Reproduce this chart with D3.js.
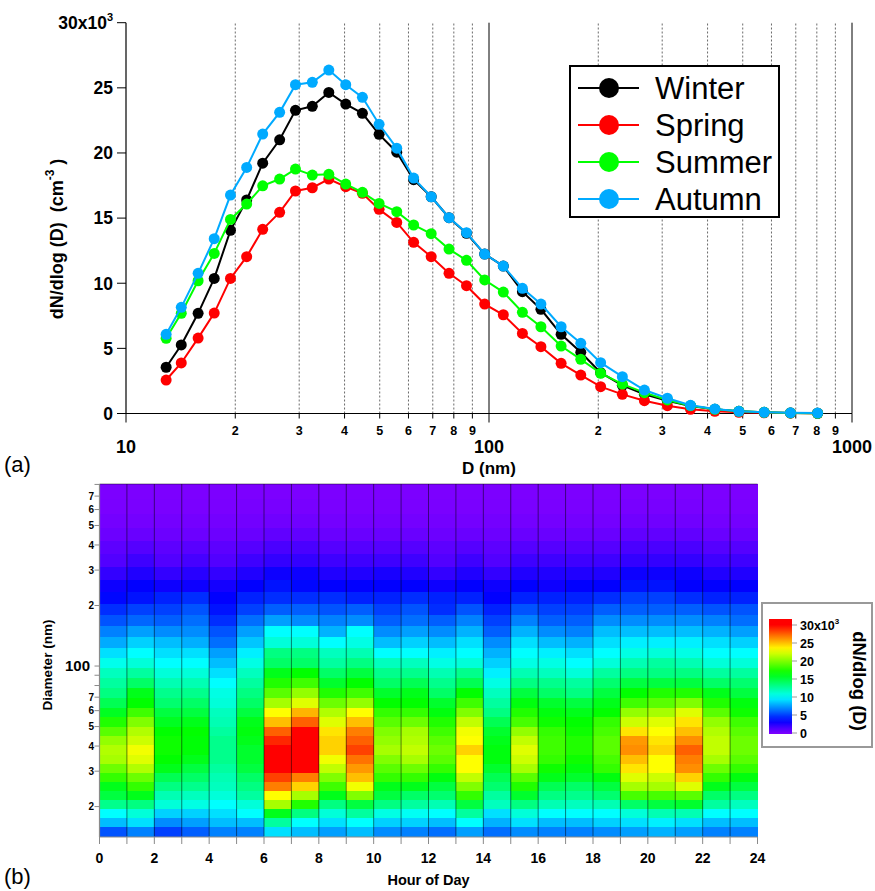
<!DOCTYPE html>
<html><head><meta charset="utf-8">
<script src="https://cdn.jsdelivr.net/npm/d3@7"></script>
<style>
body{margin:0;background:#fff;}
svg{display:block;font-family:"Liberation Sans",Arial,Helvetica,sans-serif;}
</style></head><body>
<svg id="chart" width="875" height="891"></svg>
<script>
// ---------------- DATA ----------------
// particle diameters (nm), SMPS bins
const diameters = [12.9,14.2,15.8,17.5,19.4,21.5,23.8,26.5,29.3,32.6,36.2,40.3,44.8,49.8,55.7,62.0,69.3,77.6,86.7,97.3,109.5,123.6,139,158,179,203,233,268,310,359,419,488,573,677,804];
const seasons = ["Winter","Spring","Summer","Autumn"];
const seasonColors = ["#000000","#ff0000","#00ff00","#00aaff"];
// dN/dlog(D) in units of 10^3 cm^-3
const winter = [3.55,5.26,7.69,10.37,14.06,16.39,19.22,21.01,23.27,23.58,24.65,23.75,23.04,21.43,20.06,17.95,16.64,15.03,13.83,12.24,11.32,9.35,8.00,6.08,4.70,3.13,2.16,1.47,0.98,0.58,0.32,0.17,0.09,0.04,0.02];
const spring = [2.57,3.88,5.79,7.71,10.37,12.04,14.14,15.44,17.08,17.33,18.00,17.41,16.90,15.67,14.67,13.14,12.04,10.76,9.81,8.40,7.58,6.15,5.13,3.85,2.95,2.06,1.47,0.98,0.60,0.32,0.17,0.09,0.05,0.03,0.02];
const summer = [5.77,7.69,10.19,12.29,14.90,16.08,17.48,18.00,18.76,18.30,18.36,17.61,16.98,16.13,15.49,14.47,13.80,12.62,11.76,10.25,9.32,7.77,6.66,5.18,4.16,3.09,2.26,1.60,1.04,0.60,0.32,0.17,0.09,0.04,0.02];
const autumn = [6.08,8.15,10.76,13.42,16.77,18.89,21.45,23.12,25.24,25.42,26.36,25.24,24.27,22.20,20.37,18.07,16.64,15.03,13.88,12.24,11.32,9.61,8.40,6.66,5.39,3.90,2.83,1.80,1.17,0.63,0.35,0.17,0.09,0.05,0.03];
const seriesValues = [winter, spring, summer, autumn];

const yTicksTop = [0,5,10,15,20,25,30];
const xMajorTicks = [10,100,1000];
const xMinorTicks = [20,30,40,50,60,70,80,90,200,300,400,500,600,700,800,900];

// Hour-of-day heatmap, dN/dlog(D) in 10^3 cm^-3; each hour lists bins from largest (677-804 nm) to smallest (14.2-15.8 nm)
const hours = [0,1,2,3,4,5,6,7,8,9,10,11,12,13,14,15,16,17,18,19,20,21,22,23];
const heat = [
 [0.1,0.15,0.3,0.5,0.9, 1.2,2,3,3.5,4.5,5.5,6.7,7.8,9.2,10.5,11.7,12.5,13.3,14.5,15.8,17.5,19,20.5,21.3,21,19.5,18,16,15,13,10,8.3,5.5],
 [0.1,0.15,0.3,0.6,1.1, 1.7,2.5,3.3,3.8,5,6,7.5,8.8,10,11,12.5,14,16,16.7,18.3,20,21.3,22,23,22.5,21.3,19.5,18,16,13.3,11,9.2,6.7],
 [0.1,0.15,0.3,0.5,0.9, 1.2,2,3,4.2,5,5.8,7,8.3,9.2,10,11,12,13,13.8,15,15.8,16.7,17,17,16.7,16,14.5,13.3,12,11,8.8,7,5],
 [0.1,0.15,0.3,0.5,1.0, 1.5,2.3,3,4.5,5.5,6.2,7,7.9,9.2,10,11,12,13,14,15,16,16.7,16.5,16.5,16,15,14,13,11.7,10.7,8.8,7.5,5.8],
 [0.1,0.15,0.3,0.5,0.9, 1.2,2,2.8,3.3,3.8,4.5,5.5,6.2,7.5,8.3,9.2,10,10.7,11,11.7,12,12.5,13,13,13,12.5,12,11.7,11,10,9.2,8.3,6.7],
 [0.1,0.2,0.35,0.6,1.1, 1.7,2.5,3.3,4.2,5,6.2,7.5,8.5,9.6,10.7,11.7,12.5,13.3,14,15,16,16.3,16,15.5,15.5,15,14,13.3,12.5,11,10,8.3,6.7],
 [0.1,0.2,0.4,0.8,1.4, 2,3,3.8,4.5,5.8,7.5,10,11,13.3,14,16,17.5,19,21,23.3,25,27.5,29,30,30,30,28.3,26.7,23.3,21,16,12.5,9.2],
 [0.1,0.2,0.4,0.8,1.4, 2,3,3.5,4.5,5.8,7,10,11,13.3,14,16.7,18.3,20.5,22.5,25.3,27.5,31,31,32,32,31,26.7,24.5,21,17.5,13.3,10,8.3],
 [0.1,0.15,0.3,0.6,1.1, 1.7,2.5,3.3,4.5,5.5,6.7,8,10,11.7,12.5,14,15.5,17.5,19.5,21.3,22.5,24,24.5,24.5,23,21.7,20,18.3,16,13.3,11,9.2,7.5],
 [0.1,0.15,0.3,0.6,1.1, 1.7,2.5,3.3,4.2,5.8,7,10,10.7,12,13.3,15,16.7,18.3,20.5,23.3,25,26.7,27.5,28.3,27,26,25,23,20,15,12.5,10,8.3],
 [0.1,0.15,0.3,0.6,1.1, 1.7,2.7,3.3,4.2,5,5.8,7,8.3,10,11.7,13,14,15.5,16.7,18,19,20,20.5,21,20,19,18,16,15,13.3,10.7,8.8,7],
 [0.1,0.15,0.3,0.6,1.1, 1.7,2.5,3.3,4.5,5.5,6.2,7.5,8.8,10,11.7,13,14.5,16,16.7,18,19.5,21,21.3,21.7,21,19.5,18,16,14,12.5,10.3,8.8,6.7],
 [0.1,0.15,0.3,0.5,0.9, 1.2,2,3,4.2,4.5,5.8,7,8.3,9.6,10.7,12,13,14,15.5,16.3,17.5,18.3,19,19.5,19,18,16.3,15,13.8,12,10,8.3,6.2],
 [0.1,0.15,0.3,0.6,1.1, 1.7,2.5,3.3,4.2,5.5,6.7,8,9.2,10,11,13,14.5,16.7,18.3,20,21.7,23,23.3,24.5,23.3,23.3,21.7,20,18,15,12.5,10,7.5],
 [0.1,0.15,0.3,0.5,0.9, 1.2,2,3,3.3,4.2,5,5.8,7,8,8.8,9.6,10.7,11.7,12.5,13.3,14.5,15.5,16,16.3,16.3,15.5,14.5,13.8,12.5,11.7,9.2,8,6.2],
 [0.1,0.15,0.3,0.6,1.1, 1.7,2.5,3.3,4.2,5.5,6.7,8,9.2,10,10.7,12,13.3,15,16.3,17.5,18.5,20.5,21.7,22.5,22,21,19,17.5,15.5,13.3,11,9.2,7],
 [0.1,0.15,0.3,0.6,1.1, 1.7,2.5,3,4.2,5,5.8,7,8.3,9.6,10.7,11.7,13,14,15.5,16.3,17,18,18.3,18.3,18,17,16,14.5,13.3,12,10,8.3,6.7],
 [0.1,0.15,0.3,0.6,1.1, 1.7,2.5,3.3,4.2,5,5.8,6.7,8,9.2,10,11,12.5,13.3,15,16,16.7,17,17.5,17.5,17,16.3,15.5,14,13,11.7,10,8.3,6.7],
 [0.1,0.15,0.3,0.6,1.1, 1.7,2.5,3.3,4.5,5.8,7,8.3,9.2,10,11,12.5,13.8,15,16,16.7,18,18.5,19,19,18.5,18,16.3,15,13.8,12,10,8.8,7],
 [0.1,0.2,0.4,0.8,1.4, 2,3,3.8,5,5.8,7,8.3,9.6,10.7,12,13.3,15,16.7,18.3,20.5,22,24,26,26.3,25,24,22.5,21,18.5,14,11,9.2,7.5],
 [0.1,0.2,0.4,0.8,1.4, 2,3,3.8,5,5.8,7,8.3,9.6,11,12.5,13.3,15,17.5,19,21,22.5,23.3,24,24.5,23.3,23.3,22,21,18.5,15,12,9.6,8],
 [0.1,0.2,0.4,0.8,1.4, 2,3,3.3,4.5,5.8,7,8.3,9.6,10.7,12,13.3,15,17.5,20,22.5,24,25,26.3,27.5,26.7,26.3,24.5,22.5,19,15.5,12,9.2,7.5],
 [0.1,0.15,0.3,0.6,1.1, 1.7,2.5,3.3,4.2,5.5,6.7,8,9.2,10,11,12.5,14,16,17.5,19,20.5,21.3,21.7,21.7,21,19.5,18,16,14,12.5,10,8.3,6.7],
 [0.1,0.15,0.3,0.6,1.1, 1.7,2.5,3.3,4.2,5.5,6.2,7.5,8.8,10,11,12.5,13.8,15,16.3,17,18.3,19,19.5,19.5,19,18,16.3,15,13.3,11.7,10,8.3,6.7]
];
const hourTicks = [0,2,4,6,8,10,12,14,16,18,20,22,24];
const heatYLabeled = [20,30,40,50,60,70,100,200,300,400,500,600,700];
const heatYUnlabeled = [80,90,800];
const cbTicks = [0,5,10,15,20,25,30];

// ---------------- DRAW ----------------
const svg = d3.select("#chart");

// ===== Panel (a) =====
const xs = d3.scaleLog().domain([10,1000]).range([126,852]);
const ys = d3.scaleLinear().domain([0,30]).range([413.5,22.7]);
const gA = svg.append("g");

// grid lines
gA.selectAll("line.gridMinor").data(xMinorTicks).join("line")
  .attr("x1",d=>xs(d)).attr("x2",d=>xs(d))
  .attr("y1",ys(0)).attr("y2",ys(30))
  .attr("stroke","#444").attr("stroke-width",0.8).attr("stroke-dasharray","2,2");
gA.selectAll("line.gridMajor").data([100,1000]).join("line")
  .attr("x1",d=>xs(d)).attr("x2",d=>xs(d))
  .attr("y1",ys(0)).attr("y2",ys(30))
  .attr("stroke","#000").attr("stroke-width",1);

// axes lines
gA.append("line").attr("x1",xs(10)).attr("x2",xs(10)).attr("y1",ys(0)).attr("y2",ys(30)).attr("stroke","#000").attr("stroke-width",1.2);
gA.append("line").attr("x1",xs(10)).attr("x2",xs(1000)).attr("y1",ys(0)).attr("y2",ys(0)).attr("stroke","#000").attr("stroke-width",1.2);

// y ticks
gA.selectAll("line.yt").data(yTicksTop).join("line")
  .attr("x1",xs(10)-9).attr("x2",xs(10)).attr("y1",d=>ys(d)).attr("y2",d=>ys(d))
  .attr("stroke","#000").attr("stroke-width",1);
gA.selectAll("text.yl").data(yTicksTop.filter(d=>d!==30)).join("text")
  .attr("x",113).attr("y",d=>ys(d)).attr("dy","0.36em")
  .attr("text-anchor","end").attr("font-weight","bold").attr("font-size",17.5)
  .text(d=>d);
const topLab = gA.append("text").attr("x",113).attr("y",ys(30)).attr("dy","0.36em")
  .attr("text-anchor","end").attr("font-weight","bold").attr("font-size",17.5);
topLab.append("tspan").text("30x10");
topLab.append("tspan").attr("font-size",11).attr("dy",-8).text("3");

// x ticks
gA.selectAll("line.xtM").data(xMajorTicks).join("line")
  .attr("x1",d=>xs(d)).attr("x2",d=>xs(d)).attr("y1",ys(0)).attr("y2",ys(0)+9)
  .attr("stroke","#000").attr("stroke-width",1);
gA.selectAll("line.xtm").data(xMinorTicks).join("line")
  .attr("x1",d=>xs(d)).attr("x2",d=>xs(d)).attr("y1",ys(0)).attr("y2",ys(0)+5)
  .attr("stroke","#000").attr("stroke-width",1);
gA.selectAll("text.xlm").data(xMinorTicks).join("text")
  .attr("x",d=>xs(d)).attr("y",435).attr("text-anchor","middle")
  .attr("font-weight","bold").attr("font-size",12.5)
  .text(d=>String(d)[0]);
gA.selectAll("text.xlM").data(xMajorTicks).join("text")
  .attr("x",d=>xs(d)).attr("y",453).attr("text-anchor","middle")
  .attr("font-weight","bold").attr("font-size",18)
  .text(d=>d);
gA.append("text").attr("x",xs(100)).attr("y",474).attr("text-anchor","middle")
  .attr("font-weight","bold").attr("font-size",17).text("D (nm)");

// y title
const yt = gA.append("text").attr("transform","translate(63,239) rotate(-90)")
  .attr("text-anchor","middle").attr("font-weight","bold").attr("font-size",18)
  .style("white-space","pre");
yt.append("tspan").text("dN/dlog (D)  (cm");
yt.append("tspan").attr("font-size",12).attr("dy",-9).text("-3");
yt.append("tspan").attr("dy",9).text(" )");

// lines & markers
const line = d3.line().x(d=>xs(d[0])).y(d=>ys(d[1]));
seriesValues.forEach((vals,i)=>{
  const pts = diameters.map((D,j)=>[D,vals[j]]);
  gA.append("path").datum(pts).attr("d",line).attr("fill","none")
    .attr("stroke",seasonColors[i]).attr("stroke-width",2);
  gA.selectAll("circle.s"+i).data(pts).join("circle")
    .attr("cx",d=>xs(d[0])).attr("cy",d=>ys(d[1])).attr("r",5.5)
    .attr("fill",seasonColors[i]);
});

// legend
const lg = gA.append("g");
lg.append("rect").attr("x",570).attr("y",66).attr("width",209).attr("height",151)
  .attr("fill","#fff").attr("stroke","#000").attr("stroke-width",2);
seasons.forEach((s,i)=>{
  const yy = 88 + i*37;
  lg.append("line").attr("x1",578).attr("x2",639).attr("y1",yy).attr("y2",yy)
    .attr("stroke",seasonColors[i]).attr("stroke-width",2);
  lg.append("circle").attr("cx",609).attr("cy",yy).attr("r",10).attr("fill",seasonColors[i]);
  lg.append("text").attr("x",655).attr("y",yy).attr("dy","0.36em")
    .attr("font-size",31).text(s);
});

svg.append("text").attr("x",4).attr("y",472).attr("font-size",22).text("(a)");
svg.append("text").attr("x",4).attr("y",884).attr("font-size",22).text("(b)");

// ===== Panel (b) =====
const hx = d3.scaleLinear().domain([0,24]).range([99.5,757.5]);
const hy = d3.scaleLog().domain([diameters[1], diameters[diameters.length-1]]).range([836.5,484]);
const hue = d3.scaleLinear().domain([0,30]).range([270,0]).clamp(true);
const color = v => d3.hsl(hue(v),1,0.5).toString();
const gB = svg.append("g");

const nRows = heat[0].length; // 33
const cells = [];
heat.forEach((col,h)=>{
  col.forEach((v,i)=>{
    const r = nRows-1-i;        // row index from bottom
    cells.push({h:hours[h], lo:diameters[r+1], hi:diameters[r+2], v});
  });
});
gB.selectAll("rect.cell").data(cells).join("rect")
  .attr("x",d=>hx(d.h)).attr("width",d=>hx(d.h+1)-hx(d.h)+0.4)
  .attr("y",d=>hy(d.hi)).attr("height",d=>hy(d.lo)-hy(d.hi)+0.4)
  .attr("fill",d=>color(d.v)).attr("shape-rendering","crispEdges");

// hour separators
gB.selectAll("line.sep").data(hours.slice(1)).join("line")
  .attr("x1",d=>hx(d)).attr("x2",d=>hx(d)).attr("y1",hy.range()[1]).attr("y2",hy.range()[0])
  .attr("stroke","#000").attr("stroke-opacity",0.5).attr("stroke-width",1);
gB.append("line").attr("x1",hx(0)).attr("x2",hx(24)).attr("y1",484).attr("y2",484)
  .attr("stroke","#000").attr("stroke-opacity",0.45).attr("stroke-width",1);

// axes
const axCol = "#8a8a8a";
gB.append("line").attr("x1",hx(0)).attr("x2",hx(0)).attr("y1",484).attr("y2",837).attr("stroke",axCol).attr("stroke-width",1.2);
gB.append("line").attr("x1",hx(0)).attr("x2",hx(24)).attr("y1",837).attr("y2",837).attr("stroke",axCol).attr("stroke-width",1.2);
gB.selectAll("line.hyt").data(heatYLabeled.concat(heatYUnlabeled)).join("line")
  .attr("x1",hx(0)-5).attr("x2",hx(0)).attr("y1",d=>hy(d)).attr("y2",d=>hy(d))
  .attr("stroke",axCol).attr("stroke-width",1);
gB.selectAll("text.hyl").data(heatYLabeled).join("text")
  .attr("x",d=>d===100?90:94).attr("y",d=>hy(d)).attr("dy","0.36em")
  .attr("text-anchor","end").attr("font-weight","bold")
  .attr("font-size",d=>d===100?15:10)
  .text(d=>d===100?"100":String(d)[0]);
gB.append("text").attr("transform","translate(52,665) rotate(-90)")
  .attr("text-anchor","middle").attr("font-weight","bold").attr("font-size",13.5)
  .text("Diameter (nm)");

gB.selectAll("line.hxt").data(d3.range(0,25)).join("line")
  .attr("x1",d=>hx(d)).attr("x2",d=>hx(d)).attr("y1",837).attr("y2",844)
  .attr("stroke",axCol).attr("stroke-width",1);
gB.selectAll("text.hxl").data(hourTicks).join("text")
  .attr("x",d=>hx(d)).attr("y",863).attr("text-anchor","middle")
  .attr("font-weight","bold").attr("font-size",14).text(d=>d);
gB.append("text").attr("x",(hx(0)+hx(24))/2).attr("y",885).attr("text-anchor","middle")
  .attr("font-weight","bold").attr("font-size",14.5).text("Hour of Day");

// colour bar
const cb = d3.scaleLinear().domain([0,30]).range([733,625]);
const defs = svg.append("defs");
const grad = defs.append("linearGradient").attr("id","cbgrad")
  .attr("x1","0").attr("y1","1").attr("x2","0").attr("y2","0");
const vBottom = cb.invert(734), vTop = cb.invert(619);
d3.range(0,21).forEach(k=>{
  const v = vBottom + (vTop-vBottom)*k/20;
  grad.append("stop").attr("offset",(k/20*100)+"%").attr("stop-color",color(v));
});
gB.append("rect").attr("x",762).attr("y",603).attr("width",110).attr("height",144)
  .attr("fill","#fff").attr("stroke","#999").attr("stroke-width",2);
gB.append("rect").attr("x",769).attr("y",cb(vTop)).attr("width",23).attr("height",cb(vBottom)-cb(vTop))
  .attr("fill","url(#cbgrad)");
gB.selectAll("line.cbt").data(cbTicks).join("line")
  .attr("x1",792).attr("x2",797).attr("y1",d=>cb(d)).attr("y2",d=>cb(d))
  .attr("stroke","#999").attr("stroke-width",1);
gB.selectAll("text.cbl").data(cbTicks.filter(d=>d!==30)).join("text")
  .attr("x",800).attr("y",d=>cb(d)).attr("dy","0.36em")
  .attr("font-weight","bold").attr("font-size",12.5).text(d=>d);
const cbTop = gB.append("text").attr("x",800).attr("y",cb(30)).attr("dy","0.36em")
  .attr("font-weight","bold").attr("font-size",12.5);
cbTop.append("tspan").text("30x10");
cbTop.append("tspan").attr("font-size",8).attr("dy",-6).text("3");
gB.append("text").attr("transform","translate(853,681) rotate(90)")
  .attr("text-anchor","middle").attr("font-weight","bold").attr("font-size",18.5)
  .style("white-space","pre").text("dN/dlog (D)");
</script>
</body></html>
